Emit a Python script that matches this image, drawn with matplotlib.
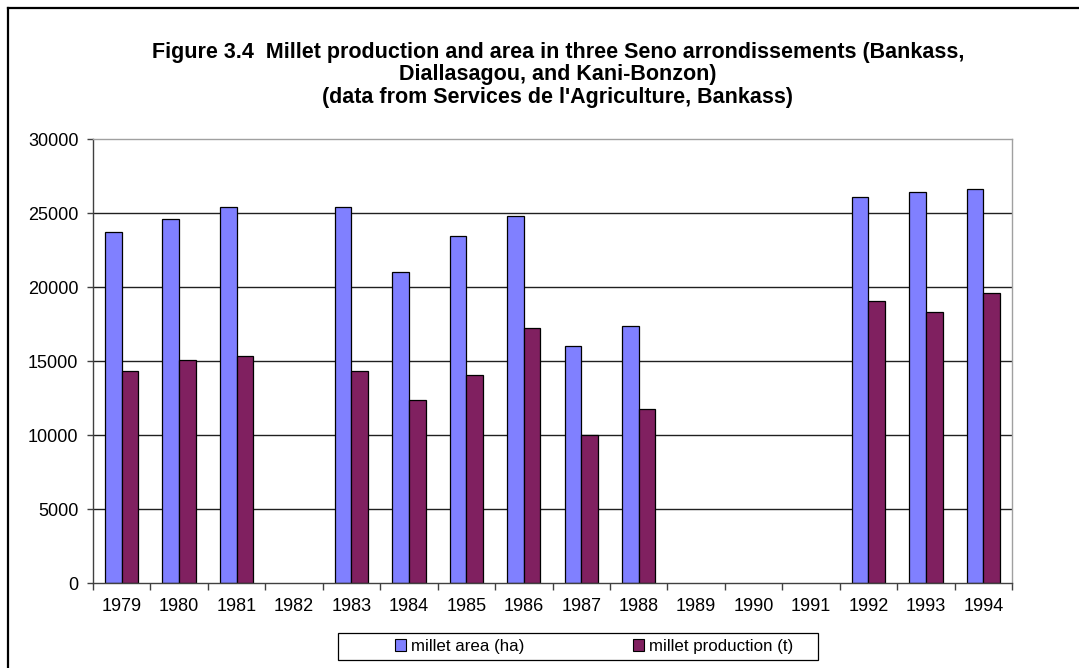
import numpy as np
import matplotlib
matplotlib.use("Agg")
import matplotlib.pyplot as plt
from matplotlib.lines import Line2D
from matplotlib.patches import Rectangle, Patch

years = ["1979", "1980", "1981", "1982", "1983", "1984", "1985", "1986",
         "1987", "1988", "1989", "1990", "1991", "1992", "1993", "1994"]
area_ha = [23740, 24620, 25430, np.nan, 25430, 21040, 23460, 24820,
           16030, 17370, np.nan, np.nan, np.nan, 26100, 26420, 26620]
production_t = [14320, 15050, 15340, np.nan, 14320, 12360, 14070, 17250,
                10030, 11740, np.nan, np.nan, np.nan, 19080, 18330, 19600]
yticks = [0, 5000, 10000, 15000, 20000, 25000, 30000]

title = ("Figure 3.4  Millet production and area in three Seno arrondissements (Bankass,\n"
         "Diallasagou, and Kani-Bonzon)\n"
         "(data from Services de l'Agriculture, Bankass)")

plt.rcParams['font.family'] = ['Liberation Sans', 'DejaVu Sans']

W, H = 1079, 668
fig = plt.figure(figsize=(W / 100, H / 100), dpi=100)
ax = fig.add_axes([93 / W, 1 - 583 / H, (1012 - 93) / W, (583 - 139) / H])

area_col = "#8080FF"
prod_col = "#802060"
bw = 0.29
x = np.arange(len(years))
area = np.array(area_ha, dtype=float)
prod = np.array(production_t, dtype=float)
ma = ~np.isnan(area)
mp = ~np.isnan(prod)
ax.bar(x[ma] - bw / 2, area[ma], width=bw, color=area_col, edgecolor="black",
       linewidth=0.9, zorder=3)
ax.bar(x[mp] + bw / 2, prod[mp], width=bw, color=prod_col, edgecolor="black",
       linewidth=0.9, zorder=3)

ax.set_xlim(-0.5, len(years) - 0.5)
ax.set_ylim(0, 30000)
ax.set_yticks(yticks)
ax.set_yticklabels([str(v) for v in yticks])
ax.set_xticks(x)
ax.set_xticklabels(years)
ax.set_xticks(np.arange(-0.5, len(years)), minor=True)
ax.tick_params(axis="x", which="major", length=0, pad=11, labelsize=13)
ax.tick_params(axis="x", which="minor", length=5, width=1, color="#404040", direction="out")
ax.tick_params(axis="y", length=4.5, width=1, color="#404040", pad=6, labelsize=13)

for y in yticks[1:-1]:
    ax.axhline(y, color="#202020", linewidth=1.0, zorder=1)

ax.spines["left"].set_color("#404040")
ax.spines["bottom"].set_color("#404040")
ax.spines["top"].set_color("#a0a0a0")
ax.spines["right"].set_color("#a0a0a0")
for s in ax.spines.values():
    s.set_linewidth(1.0)
ax.spines["bottom"].set_zorder(4)

fig.text(558 / W, 1 - 42 / H, title, ha="center", va="top", fontsize=15.5,
         fontweight="bold", linespacing=1.08)

# outer frame
fig.add_artist(Line2D([8 / W, 8 / W], [0, 1 - 8 / H], transform=fig.transFigure,
                      color="black", linewidth=1.6))
fig.add_artist(Line2D([8 / W, 1], [1 - 8 / H, 1 - 8 / H], transform=fig.transFigure,
                      color="black", linewidth=1.6))

# legend
fig.add_artist(Rectangle((338 / W, 1 - 660 / H), (818 - 338) / W, 27 / H,
                         transform=fig.transFigure, fill=False, edgecolor="black",
                         linewidth=0.9))
handles = [Patch(facecolor=area_col, edgecolor="black", linewidth=0.8),
           Patch(facecolor=prod_col, edgecolor="black", linewidth=0.8)]
fig.legend(handles, ["millet area (ha)", "millet production (t)"], ncol=2,
           loc="center", bbox_to_anchor=(594 / W, 1 - 646.5 / H), frameon=False,
           fontsize=12.2, handlelength=0.65, handleheight=0.65, handletextpad=0.3,
           columnspacing=6.4, borderpad=0.0)

fig.savefig("out.png", dpi=100)
